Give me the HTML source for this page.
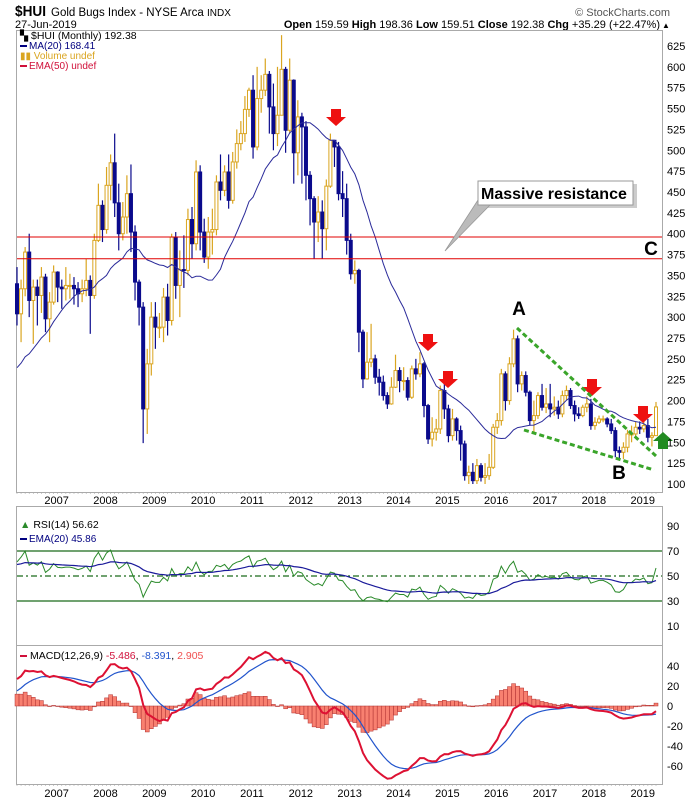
<!DOCTYPE html>
<html><head><meta charset="utf-8"><title>$HUI Monthly</title>
<style>
html,body{margin:0;padding:0;background:#fff;}
svg{display:block;font-family:"Liberation Sans",sans-serif;}
</style></head>
<body>
<svg id="chart" width="700" height="800" viewBox="0 0 700 800" xmlns="http://www.w3.org/2000/svg">
  <rect x="0" y="0" width="700" height="800" fill="#fff"/>
  <!-- header -->
  <text x="15" y="16" font-size="15" font-weight="bold" textLength="31" lengthAdjust="spacingAndGlyphs">$HUI</text>
  <text x="51" y="16" font-size="11.5">Gold Bugs Index - NYSE Arca <tspan font-size="10">INDX</tspan></text>
  <text x="670" y="16" font-size="11" fill="#555" text-anchor="end">© StockCharts.com</text>
  <text x="15" y="28" font-size="11">27-Jun-2019</text>
  <text x="660" y="28" font-size="11" text-anchor="end"><tspan font-weight="bold">Open</tspan> 159.59 <tspan font-weight="bold">High</tspan> 198.36 <tspan font-weight="bold">Low</tspan> 159.51 <tspan font-weight="bold">Close</tspan> 192.38 <tspan font-weight="bold">Chg</tspan> +35.29 (+22.47%)</text>
  <text x="662" y="28" font-size="8">▲</text>

  <!-- panel frames -->
  <rect x="16.5" y="30.5" width="646" height="462" fill="none" stroke="#aaa"/>
  <rect x="16.5" y="506.5" width="646" height="139" fill="none" stroke="#aaa"/>
  <rect x="16.5" y="645.5" width="646" height="139" fill="none" stroke="#aaa"/>

  <g id="price"></g>
  <g id="annot"></g>
  <g id="rsi"></g>
  <g id="macd"></g>
  <g id="axes"></g>

  <!-- legends -->
  <text x="20" y="39" font-size="10.5">▚ $HUI (Monthly) 192.38</text>
  <rect x="20" y="45" width="7" height="2" fill="#000080"/>
  <text x="29" y="49" font-size="10" fill="#000080">MA(20) 168.41</text>
  <text x="20" y="59" font-size="10" fill="#daa520">▮▮ Volume undef</text>
  <rect x="20" y="65" width="7" height="2" fill="#d0103a"/>
  <text x="29" y="69" font-size="10" fill="#d0103a">EMA(50) undef</text>

  <text x="20" y="528" font-size="10.5"><tspan fill="#2a8a2a">▲</tspan> RSI(14) 56.62</text>
  <rect x="20" y="538" width="7" height="2" fill="#000080"/>
  <text x="29" y="542" font-size="10" fill="#000080">EMA(20) 45.86</text>

  <rect x="20" y="655" width="7" height="2" fill="#d0103a"/>
  <text x="30" y="659" font-size="10.5">MACD(12,26,9) <tspan fill="#d0103a">-5.486</tspan>, <tspan fill="#2255cc">-8.391</tspan>, <tspan fill="#f05050">2.905</tspan></text>
</svg>
<script>
// ---------- data ----------
const closes = [304,334,378,320,336,326,348,298,318,354,
336,334,338,338,334,328,334,344,326,392,
434,405,458,485,437,400,420,448,402,342,
312,190,244,300,288,288,324,296,396,338,
357,356,417,388,474,402,372,402,405,462,
452,474,440,486,508,520,549,572,504,562,
572,591,552,520,542,597,524,584,497,540,
528,470,442,414,426,406,457,512,504,448,
442,392,352,356,282,226,246,250,228,222,
206,196,216,236,224,224,204,238,232,244,
194,154,162,166,212,190,158,178,164,148,
110,114,104,122,108,110,120,168,176,232,
200,244,274,220,230,210,176,182,206,192,
196,190,192,184,206,212,194,184,182,192,
196,170,174,178,178,172,164,140,138,144,
160,160,168,166,170,156,158,192.38];
const highs = [360,345,384,400,345,345,360,352,330,362,
355,345,360,352,348,342,345,370,350,400,
460,440,480,495,520,460,438,470,483,410,
345,318,262,318,318,305,335,340,400,402,
380,398,430,432,488,482,418,420,430,470,
495,482,495,498,525,535,565,575,590,600,
590,610,595,580,600,638,600,610,585,560,
545,535,475,445,445,440,465,520,512,510,
475,460,400,368,358,285,282,292,255,238,
230,210,228,255,240,240,228,242,250,258,
246,196,180,178,218,225,195,190,180,170,
152,122,125,130,125,125,136,172,185,238,
235,252,285,278,235,235,212,200,210,220,
215,220,205,200,212,218,215,200,192,195,
205,202,180,182,182,180,178,168,145,150,
165,170,175,175,180,178,162,198.36];
const lows = [290,270,325,300,268,290,305,282,270,315,
318,310,320,322,315,312,318,325,280,322,
390,390,400,440,420,380,392,400,378,320,
290,149,160,230,262,275,270,278,290,322,
300,335,350,370,380,380,365,358,375,398,
440,445,430,436,478,500,510,540,490,500,
545,565,520,500,505,560,497,520,460,470,
460,440,410,370,390,370,380,455,480,440,
420,375,345,340,258,215,225,240,220,206,
200,190,195,215,210,212,200,202,225,228,
180,148,145,152,160,178,150,152,152,128,
104,100,100,100,103,100,105,118,160,170,
188,195,240,210,212,205,170,160,178,188,
185,180,182,178,180,200,190,175,178,180,
186,165,165,172,174,168,160,132,128,130,
138,150,155,160,162,150,145,159.51];
// closes before Apr-2006 (indicator warm-up only, not drawn)
const priorCloses = [200,210,215,220,245,220,225,240,190,195,200,195,205,225,230,245,210,200,220,205,185,190,200,195,215,240,225,250,280,325,305,340];
const yearLabels = ["2007","2008","2009","2010","2011","2012","2013","2014","2015","2016","2017","2018","2019"];
const priceTicks = [100,125,150,175,200,225,250,275,300,325,350,375,400,425,450,475,500,525,550,575,600,625];
const rsiTicks = [90,70,50,30,10];
const macdTicks = [40,20,0,-20,-40,-60];
const resistanceLevels = [396,370];

// ---------- scales ----------
const N = closes.length;
const X0 = 17, X1 = 656;
const xs = i => X0 + i * (X1 - X0) / (N - 1);
const yP = p => 484 - (p - 100) * 0.8343;
const yR = v => 576 - (v - 50) * 1.25;
const yM = v => 706 - v * 1.0;
const NS = "http://www.w3.org/2000/svg";
function mk(tag, attrs, parent) {
  const e = document.createElementNS(NS, tag);
  for (const k in attrs) e.setAttribute(k, attrs[k]);
  parent.appendChild(e);
  return e;
}

// ---------- indicators ----------
const all = priorCloses.concat(closes);
const P = priorCloses.length;
function ema(arr, n) { const a = 2/(n+1); const out=[]; let v=arr[0]; for (let i=0;i<arr.length;i++){ v = i===0?arr[0]:v + a*(arr[i]-v); out.push(v);} return out; }
const ma20 = closes.map((c, i) => { const j = i + P; let s = 0; for (let k = j-19; k <= j; k++) s += all[k]; return s/20; });
const rsiAll = []; { let ag=0, al=0; for (let i=1;i<all.length;i++){ const d=all[i]-all[i-1]; const g=Math.max(d,0), l=Math.max(-d,0); if(i<=14){ag+=g/14;al+=l/14;} else {ag=(ag*13+g)/14;al=(al*13+l)/14;} rsiAll[i]= al===0?100:100-100/(1+ag/al);} rsiAll[0]=50; }
const rsiEmaAll = ema(rsiAll.map(v=>v===undefined?50:v), 20);
const e12 = ema(all, 12), e26 = ema(all, 26);
const macdAll = all.map((v,i)=>e12[i]-e26[i]);
const sigAll = ema(macdAll, 9);

// ---------- price panel ----------
const gP = document.getElementById('price');
const NAVY = "#0a0a8c", GOLD = "#daa520";
for (let i = 0; i < N; i++) {
  const o = i === 0 ? 340 : closes[i-1], c = closes[i];
  const up = c >= o;
  const x = xs(i);
  const col = up ? GOLD : NAVY;
  const w = mk('line', {x1:x, x2:x, y1:yP(highs[i]), y2:yP(lows[i]), stroke:col, 'stroke-width':1.2}, gP);
  
  
  const top = yP(Math.max(o,c)), bot = yP(Math.min(o,c));
  const b = mk('rect', {x:x-1.5, y:top, width:3, height:Math.max(bot-top,1), fill: up ? '#fff' : NAVY, stroke: col, 'stroke-width':1}, gP);
  
  
}
const maPath = ma20.map((v,i)=>(i?'L':'M')+xs(i).toFixed(1)+','+yP(v).toFixed(1)).join('');
const maEl = mk('path', {d:maPath, fill:'none', stroke:'#2b2b9a', 'stroke-width':1}, gP);



// ---------- annotations ----------
const gA = document.getElementById('annot');
resistanceLevels.forEach(lv => {
  const l = mk('line', {x1:17, x2:662, y1:yP(lv), y2:yP(lv), stroke:'#e00000', 'stroke-width':1}, gA);
  
  
});
function downArrow(cx, ty) {
  const g = mk('path', {d:`M${cx-5},${ty} h10 v8 h5 l-10,9 l-10,-9 h5 z`, fill:'#ee1111'}, gA);
  
  
}
downArrow(336,109); downArrow(428,334); downArrow(448,371); downArrow(592,379); downArrow(643,406);
const ga = mk('path', {d:'M663,432 l10,9 h-5 v8 h-10 v-8 h-5 z', fill:'#228b22'}, gA);


const t1 = mk('line', {x1:517, y1:328, x2:656, y2:456, stroke:'#3aa52a', 'stroke-width':3, 'stroke-dasharray':'5,3'}, gA);


const t2 = mk('line', {x1:524, y1:430, x2:654, y2:470, stroke:'#3aa52a', 'stroke-width':3, 'stroke-dasharray':'5,3'}, gA);


const sh = mk('rect', {x:481, y:184, width:156, height:24, fill:'#ccc'}, gA);


const ptr = mk('path', {d:'M478,200 L445,251 L490,205 Z', fill:'#bbb', stroke:'#999', 'stroke-width':0.8}, gA);


const box = mk('rect', {x:478, y:181, width:155, height:24, fill:'#fff', stroke:'#999'}, gA);


const ct = mk('text', {x:481, y:199, 'font-size':16, 'font-weight':'bold'}, gA);
ct.textContent = 'Massive resistance';


[['A',519,315],['B',619,479],['C',651,255]].forEach(([s,x,y])=>{
  const t = mk('text', {x:x, y:y, 'font-size':19, 'font-weight':'bold', 'text-anchor':'middle'}, gA);
  t.textContent = s;
  
  
});

// ---------- RSI panel ----------
const gR = document.getElementById('rsi');
[[70,'none'],[30,'none'],[50,'6,3,2,3']].forEach(([v,d])=>{
  const l = mk('line', {x1:17, x2:662, y1:yR(v), y2:yR(v), stroke:'#1a6a1a', 'stroke-width':1.2, 'stroke-dasharray':d}, gR);
  
  
});
const rsiD = closes.map((c,i)=>(i?'L':'M')+xs(i).toFixed(1)+','+yR(rsiAll[i+P]).toFixed(1)).join('');
const rsiEl = mk('path', {d:rsiD, fill:'none', stroke:'#2a8a2a', 'stroke-width':1}, gR);


const rsiE = closes.map((c,i)=>(i?'L':'M')+xs(i).toFixed(1)+','+yR(rsiEmaAll[i+P]).toFixed(1)).join('');
const rsiEEl = mk('path', {d:rsiE, fill:'none', stroke:'#1a1a9a', 'stroke-width':1.2}, gR);



// ---------- MACD panel ----------
const gM = document.getElementById('macd');
for (let i = 0; i < N; i++) {
  const h = macdAll[i+P] - sigAll[i+P];
  const y0 = yM(0), y1 = yM(h);
  const r = mk('rect', {x:xs(i)-2, y:Math.min(y0,y1), width:4, height:Math.max(Math.abs(y1-y0),0.5), fill:'#f88070', stroke:'#b03030', 'stroke-width':0.5}, gM);
  
  
}
const sigD = closes.map((c,i)=>(i?'L':'M')+xs(i).toFixed(1)+','+yM(sigAll[i+P]).toFixed(1)).join('');
const sigEl = mk('path', {d:sigD, fill:'none', stroke:'#2255cc', 'stroke-width':1.2}, gM);


const macdD = closes.map((c,i)=>(i?'L':'M')+xs(i).toFixed(1)+','+yM(macdAll[i+P]).toFixed(1)).join('');
const macdEl = mk('path', {d:macdD, fill:'none', stroke:'#dd1133', 'stroke-width':2}, gM);



// ---------- axes ----------
const gX = document.getElementById('axes');
priceTicks.forEach(v=>{
  const t = mk('text', {x:667, y:yP(v)+4, 'font-size':11}, gX);
  t.textContent = v;
  
  
});
rsiTicks.forEach(v=>{
  const t = mk('text', {x:667, y:yR(v)+4, 'font-size':11}, gX);
  t.textContent = v;
  
  
});
macdTicks.forEach(v=>{
  const t = mk('text', {x:667, y:yM(v)+4, 'font-size':11}, gX);
  t.textContent = v;
  
  
});
yearLabels.forEach((s,k)=>{
  const x = xs(9 + 12*k) + 3;
  [500, 793].forEach(yy=>{
    const t = mk('text', {x:x, y:yy+4, 'font-size':11, 'text-anchor':'middle'}, gX);
    t.textContent = s;
    
    
  });
});
for (let i = 0; i < N; i++) {
  [492, 784].forEach(yy=>{
    const tk = mk('line', {x1:xs(i), x2:xs(i), y1:yy, y2:yy+2, stroke:'#aaa', 'stroke-width':0.6}, gX);
    
    
  });
}
</script>
</body></html>
